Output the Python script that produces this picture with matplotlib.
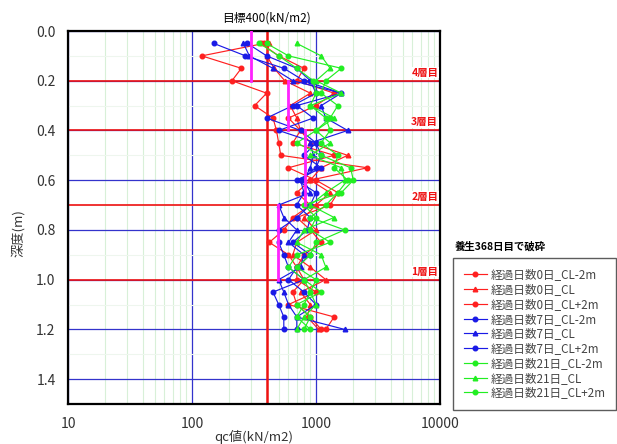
import matplotlib
matplotlib.use("Agg")
import matplotlib.pyplot as plt
from matplotlib.ticker import FixedLocator, NullFormatter

plt.rcParams['font.family'] = ['Noto Sans CJK JP', 'DejaVu Sans']

depths = [0.05, 0.10, 0.15, 0.20, 0.25, 0.30, 0.35, 0.40, 0.45, 0.50, 0.55, 0.60,
          0.65, 0.70, 0.75, 0.80, 0.85, 0.90, 0.95, 1.00, 1.05, 1.10, 1.15, 1.20]

series_names = ["経過日数0日_CL-2m", "経過日数0日_CL", "経過日数0日_CL+2m",
                "経過日数7日_CL-2m", "経過日数7日_CL", "経過日数7日_CL+2m",
                "経過日数21日_CL-2m", "経過日数21日_CL", "経過日数21日_CL+2m"]

day0_m2 = [380, 120, 250, 210, 400, 320, 450, 480, 500, 520, 2600, 900, 700, 900, 650, 550, 420, 600, 700, 800, 650, 700, 900, 1100]
day0_cl = [420, 400, 460, 560, 900, 620, 700, 750, 900, 1800, 1100, 900, 1300, 1000, 800, 1000, 700, 650, 900, 1200, 750, 900, 850, 1050]
day0_p2 = [360, 500, 800, 700, 1400, 1000, 600, 750, 650, 1400, 600, 1000, 1500, 1300, 700, 900, 1100, 800, 700, 700, 1000, 600, 1400, 1200]
day7_m2 = [150, 270, 550, 800, 1600, 700, 950, 500, 1000, 800, 1100, 700, 1000, 900, 700, 500, 500, 550, 600, 800, 450, 500, 550, 550]
day7_cl = [260, 290, 450, 650, 1600, 1100, 1200, 1800, 900, 950, 900, 800, 900, 500, 550, 700, 600, 800, 750, 500, 550, 600, 700, 1700]
day7_p2 = [280, 400, 700, 900, 1000, 650, 400, 750, 1000, 1100, 1000, 750, 800, 700, 900, 850, 650, 900, 700, 600, 800, 1000, 700, 700]
day21_m2 = [350, 500, 700, 950, 1000, 900, 1200, 1300, 1100, 1500, 1400, 1800, 1500, 1200, 900, 1700, 1000, 900, 700, 1000, 900, 800, 700, 900]
day21_cl = [700, 1100, 1300, 1000, 1600, 900, 1400, 1000, 1300, 900, 1600, 1700, 1200, 900, 1400, 800, 700, 1100, 1200, 800, 900, 1000, 800, 700]
day21_p2 = [400, 600, 1600, 1200, 1100, 1500, 1300, 1000, 700, 1100, 1900, 2000, 1600, 800, 1000, 900, 1300, 700, 600, 800, 1100, 700, 900, 800]

all_series = [day0_m2, day0_cl, day0_p2, day7_m2, day7_cl, day7_p2, day21_m2, day21_cl, day21_p2]

# average (magenta) step line per layer
avg_depth_bounds = [(0.0, 0.2), (0.2, 0.4), (0.4, 0.7), (0.7, 1.0)]
avg_values = [300, 590, 815, 490]

target_value = 400
layer_depths = [0.2, 0.4, 0.7, 1.0]
layer_labels = ["4層目", "3層目", "2層目", "1層目"]

colors = ['#ff2020'] * 3 + ['#1a1ae6'] * 3 + ['#22ee22'] * 3
markers = ['o', '^', 'o'] * 3

fig = plt.figure(figsize=(6.17, 4.44), dpi=100)
ax = fig.add_axes([68/617, 1-404/444, 372/617, 373/444])

ax.set_xscale('log')
ax.set_xlim(10, 10000)
ax.set_ylim(1.5, 0.0)

# grids
ax.xaxis.set_major_locator(FixedLocator([10, 100, 1000, 10000]))
ax.xaxis.set_minor_locator(FixedLocator([m * 10**e for e in range(1, 4) for m in range(2, 10)]))
ax.xaxis.set_minor_formatter(NullFormatter())
ax.set_xticks([10, 100, 1000, 10000])
ax.set_xticklabels(["10", "100", "1000", "10000"])
ax.set_yticks([0.0, 0.2, 0.4, 0.6, 0.8, 1.0, 1.2, 1.4])
ax.set_yticklabels(["0.0", "0.2", "0.4", "0.6", "0.8", "1.0", "1.2", "1.4"])
ax.yaxis.set_minor_locator(FixedLocator([0.1, 0.3, 0.5, 0.7, 0.9, 1.1, 1.3]))

ax.grid(which='minor', axis='x', color='#d8f0d8', lw=0.8)
ax.grid(which='minor', axis='y', color='#eef6ee', lw=0.8)
ax.grid(which='major', axis='both', color='#3333cc', lw=0.9)
ax.set_axisbelow(True)
ax.tick_params(which='both', length=0)
ax.tick_params(axis='both', labelsize=10, colors='#333333')
ax.tick_params(axis='x', pad=9)
ax.tick_params(axis='y', pad=9)

for s in ax.spines.values():
    s.set_linewidth(1.6)
    s.set_color('black')

for i, (yd, lab) in enumerate(zip(layer_depths, layer_labels)):
    ax.axhline(yd, color='#ee1111', lw=1.2, zorder=2)
    ax.text(0.995, yd - 0.012, lab, transform=ax.get_yaxis_transform(), ha='right', va='bottom',
            color='#ee1111', fontsize=7.5, fontweight='bold',
            bbox=dict(facecolor='white', edgecolor='none', pad=0.5))

ax.axvline(target_value, color='#ee1111', lw=1.8, zorder=2)

for name, vals, c, m in zip(series_names, all_series, colors, markers):
    ax.plot(vals, depths, color=c, marker=m, ms=3.3, lw=0.85, label=name, zorder=3)

for (d0, d1), v in zip(avg_depth_bounds, avg_values):
    ax.plot([v, v], [d0, d1], color='#ff22ff', lw=2.0, zorder=4)

fig.text(267/617, 1-18/444, "目標400(kN/m2)", ha='center', va='center', fontsize=8.5)
fig.text(254/617, 1-437/444, "qc値(kN/m2)", ha='center', va='center', fontsize=9.5, color='#333333')
fig.text(18/617, 1-233/444, "深度(m)", ha='center', va='center', fontsize=9.5, rotation=90, color='#333333')
fig.text(455/617, 1-246/444, "養生368日目で破砕", ha='left', va='center', fontsize=7.5, fontweight='bold')

leg = fig.legend(loc='upper left', bbox_to_anchor=(453/617, 1-258/444), bbox_transform=fig.transFigure,
                 fontsize=8.4, frameon=True, fancybox=False, edgecolor='#333333',
                 handlelength=2.0, labelspacing=0.15, borderpad=0.9, handletextpad=0.35,
                 borderaxespad=0)
leg.get_frame().set_linewidth(1.0)
for t in leg.get_texts():
    t.set_color('#444444')

fig.savefig("out.png", dpi=100)
